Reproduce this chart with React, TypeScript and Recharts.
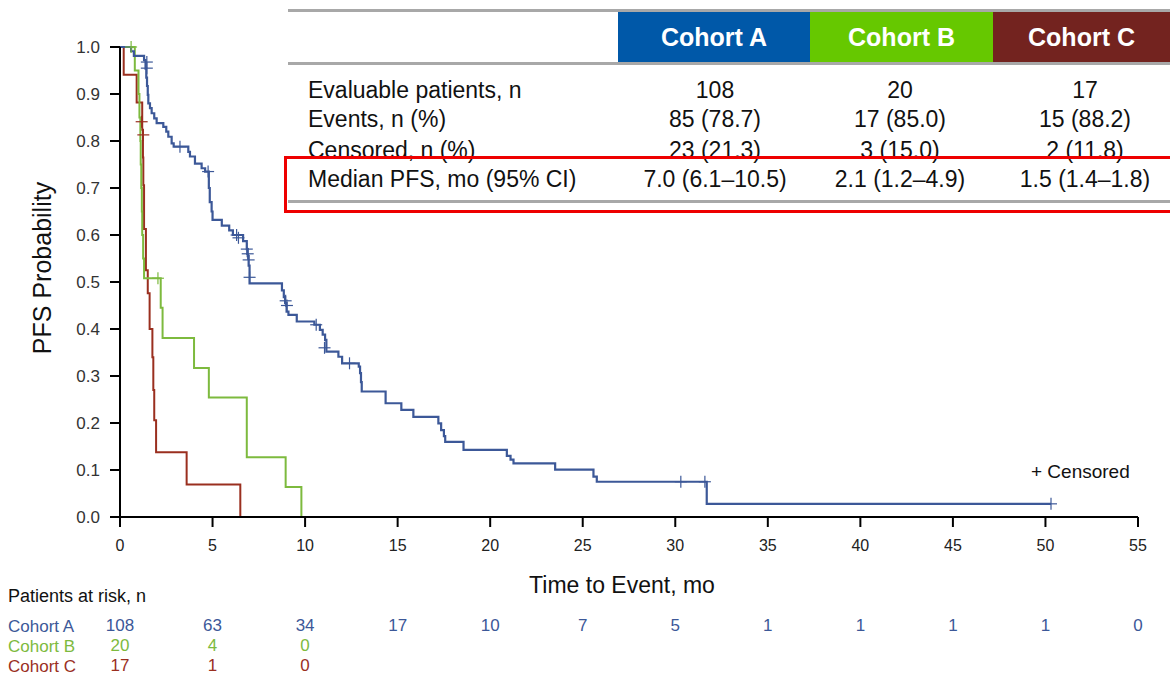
import React from "react";
import { ComposedChart, Line, Scatter, XAxis, YAxis } from "recharts";

// Kaplan-Meier steps: [months, probability]
const cohortA: [number, number][] = [
  [0, 1], [0.6, 0.991], [0.75, 0.981], [1.3, 0.972], [1.38, 0.954], [1.42, 0.935], [1.46, 0.917],
  [1.5, 0.898], [1.53, 0.88], [1.62, 0.87], [1.71, 0.859], [1.85, 0.848], [1.98, 0.838],
  [2.34, 0.83], [2.5, 0.82], [2.61, 0.809], [2.79, 0.795], [2.9, 0.788], [3.69, 0.777],
  [3.78, 0.767], [4.05, 0.752], [4.41, 0.742], [4.6, 0.735], [4.8, 0.7], [4.85, 0.67],
  [4.95, 0.65], [5.0, 0.632], [5.5, 0.62], [5.9, 0.61], [6.1, 0.6], [6.65, 0.587],
  [6.85, 0.57], [6.9, 0.555], [6.95, 0.535], [7.0, 0.497], [8.75, 0.482], [8.85, 0.468],
  [8.92, 0.455], [9.0, 0.437], [9.1, 0.43], [9.55, 0.416], [10.5, 0.409], [10.8, 0.398],
  [10.95, 0.388], [11.08, 0.377], [11.15, 0.352], [11.8, 0.341], [12.0, 0.327], [12.9, 0.32],
  [12.97, 0.306], [13.02, 0.287], [13.06, 0.267], [14.35, 0.242], [15.2, 0.228], [15.85, 0.213],
  [17.2, 0.199], [17.35, 0.185], [17.5, 0.172], [17.57, 0.16], [18.56, 0.143], [20.9, 0.13],
  [21.1, 0.122], [21.26, 0.114], [23.51, 0.101], [25.58, 0.086], [25.76, 0.075], [31.7, 0.028],
  [50.3, 0.028],
];
const cohortB: [number, number][] = [
  [0, 1], [0.8, 0.95], [1.0, 0.9], [1.05, 0.85], [1.1, 0.8], [1.12, 0.75], [1.15, 0.7],
  [1.18, 0.65], [1.2, 0.6], [1.25, 0.55], [1.3, 0.508], [2.2, 0.445], [2.3, 0.381],
  [4.0, 0.317], [4.8, 0.254], [6.85, 0.127], [8.95, 0.064], [9.8, 0],
];
const cohortC: [number, number][] = [
  [0, 1], [0.2, 0.941], [0.9, 0.882], [1.2, 0.824], [1.24, 0.765], [1.26, 0.706], [1.3, 0.613],
  [1.4, 0.525], [1.5, 0.476], [1.6, 0.4], [1.75, 0.34], [1.8, 0.27], [1.85, 0.206],
  [1.95, 0.138], [3.6, 0.069], [6.5, 0],
];

// censored observations
const censA: [number, number][] = [
  [1.45, 0.968], [1.45, 0.955], [3.24, 0.788], [4.76, 0.735], [6.3, 0.6], [6.4, 0.594],
  [6.85, 0.57], [6.9, 0.56], [6.95, 0.547], [7.0, 0.51], [8.95, 0.46], [9.02, 0.45],
  [10.6, 0.409], [11.05, 0.36], [12.4, 0.327], [30.3, 0.075], [31.6, 0.075], [50.3, 0.028],
];
const censB: [number, number][] = [[0.6, 1], [2.05, 0.508]];
const censC: [number, number][] = [[1.17, 0.841], [1.26, 0.813]];

const xTicks = [0, 5, 10, 15, 20, 25, 30, 35, 40, 45, 50, 55];
const yTicks = [0, 0.1, 0.2, 0.3, 0.4, 0.5, 0.6, 0.7, 0.8, 0.9, 1.0];

// patients at risk at each x tick
const riskA = [108, 63, 34, 17, 10, 7, 5, 1, 1, 1, 1, 0];
const riskB = [20, 4, 0];
const riskC = [17, 1, 0];

// summary table
const cohortNames = ["Cohort A", "Cohort B", "Cohort C"];
const rowLabels = ["Evaluable patients, n", "Events, n (%)", "Censored, n (%)", "Median PFS, mo (95% CI)"];
const colA = ["108", "85 (78.7)", "23 (21.3)", "7.0 (6.1–10.5)"];
const colB = ["20", "17 (85.0)", "3 (15.0)", "2.1 (1.2–4.9)"];
const colC = ["17", "15 (88.2)", "2 (11.8)", "1.5 (1.4–1.8)"];

const BLUE = "#3c5898";
const GREEN = "#7dba3e";
const RED = "#9a2f1f";
const HEAD = ["#0058a8", "#66c800", "#73231f"];
const FONT = "'Liberation Sans', Arial, sans-serif";

const pts = (arr: [number, number][]) => arr.map(([t, p]) => ({ t, p }));

const Plus = (props: any) => {
  const { cx, cy, fill } = props;
  if (cx == null || cy == null) return null;
  return (
    <g>
      <line x1={cx - 6} x2={cx + 6} y1={cy} y2={cy} stroke={fill} strokeWidth={1.2} />
      <line x1={cx} x2={cx} y1={cy - 6} y2={cy + 6} stroke={fill} strokeWidth={1.2} />
    </g>
  );
};

const riskAxis = (id: string, name: string, vals: number[], color: string) => (
  <XAxis
    xAxisId={id}
    type="number"
    dataKey="t"
    domain={[0, 55]}
    allowDataOverflow
    ticks={xTicks.slice(0, vals.length)}
    tickFormatter={(v: number) => String(vals[xTicks.indexOf(v)])}
    axisLine={false}
    tickLine={false}
    tickSize={0}
    tickMargin={0}
    height={20}
    tick={{ fontSize: 17, fill: color, fontFamily: FONT }}
    label={{
      content: (p: any) => (
        <text x={8} y={p.viewBox.y + 12.5} fontSize={17} fill={color} fontFamily={FONT}>
          {name}
        </text>
      ),
    }}
  />
);

function SummaryTable() {
  const cols = [colA, colB, colC];
  const centers = [427, 612, 797];
  const headLeft = [330, 522, 705];
  const headWidth = [192, 183, 177];
  const rowTop = [64, 93, 124, 153];
  return (
    <div style={{ position: "absolute", left: 288, top: 9, width: 882, height: 205, background: "#fff", fontFamily: FONT, color: "#111" }}>
      <div style={{ position: "absolute", left: 0, top: 0, width: 882, height: 3, background: "#a8a8a8" }} />
      {cohortNames.map((n, i) => (
        <div key={n} style={{ position: "absolute", left: headLeft[i], top: 3, width: headWidth[i], height: 50, background: HEAD[i], color: "#fff", fontWeight: "bold", fontSize: 25, lineHeight: "50px", textAlign: "center" }}>
          {n}
        </div>
      ))}
      <div style={{ position: "absolute", left: 0, top: 53, width: 882, height: 3, background: "#a8a8a8" }} />
      {rowLabels.map((r, i) => (
        <React.Fragment key={r}>
          <div style={{ position: "absolute", left: 20, top: rowTop[i], fontSize: 23, lineHeight: "34px", whiteSpace: "nowrap" }}>{r}</div>
          {cols.map((c, j) => (
            <div key={j} style={{ position: "absolute", left: centers[j] - 100, width: 200, top: rowTop[i], fontSize: 23, lineHeight: "34px", textAlign: "center", whiteSpace: "nowrap" }}>
              {c[i]}
            </div>
          ))}
        </React.Fragment>
      ))}
      <div style={{ position: "absolute", left: 0, top: 191, width: 882, height: 3, background: "#a8a8a8" }} />
      <div style={{ position: "absolute", left: -4, top: 147, width: 900, height: 51, border: "3px solid #ee0000" }} />
    </div>
  );
}

export default function App() {
  return (
    <div style={{ position: "absolute", left: 0, top: 0, width: 1170, height: 679, overflow: "hidden", background: "#fff" }}>
      <ComposedChart width={1170} height={679} margin={{ top: 47, right: 32, bottom: 0, left: 0 }} style={{ fontFamily: FONT }}>
        <XAxis
          xAxisId="main"
          type="number"
          dataKey="t"
          domain={[0, 55]}
          ticks={xTicks}
          allowDataOverflow
          height={102}
          tickSize={10}
          tickMargin={13}
          axisLine={{ stroke: "#000", strokeWidth: 2 }}
          tickLine={{ stroke: "#000", strokeWidth: 2 }}
          tick={{ fontSize: 16, fill: "#222", fontFamily: FONT }}
          label={{
            content: (p: any) => (
              <g fontFamily={FONT}>
                <text x={p.viewBox.x + p.viewBox.width / 2 - 7} y={p.viewBox.y + 76} fontSize={23} fill="#111" textAnchor="middle">
                  Time to Event, mo
                </text>
                <text x={8} y={p.viewBox.y + 85} fontSize={18} fill="#111">
                  Patients at risk, n
                </text>
              </g>
            ),
          }}
        />
        {riskAxis("riskA", "Cohort A", riskA, BLUE)}
        {riskAxis("riskB", "Cohort B", riskB, GREEN)}
        {riskAxis("riskC", "Cohort C", riskC, RED)}
        <YAxis
          type="number"
          dataKey="p"
          domain={[0, 1]}
          ticks={yTicks}
          width={120}
          tickSize={10}
          tickMargin={10}
          tickFormatter={(v: number) => v.toFixed(1)}
          axisLine={{ stroke: "#000", strokeWidth: 2 }}
          tickLine={{ stroke: "#000", strokeWidth: 2 }}
          tick={{ fontSize: 17, fill: "#333", fontFamily: FONT }}
          label={{
            content: (p: any) => {
              const x = p.viewBox.x + 42;
              const y = p.viewBox.y + p.viewBox.height / 2 - 14;
              return (
                <text x={x} y={y} transform={`rotate(-90 ${x} ${y})`} textAnchor="middle" dominantBaseline="central" fontSize={25} fill="#111" fontFamily={FONT}>
                  PFS Probability
                </text>
              );
            },
          }}
        />
        <Line xAxisId="main" data={pts(cohortC)} dataKey="p" type="stepAfter" stroke={RED} strokeWidth={2} dot={false} isAnimationActive={false} />
        <Line xAxisId="main" data={pts(cohortB)} dataKey="p" type="stepAfter" stroke={GREEN} strokeWidth={2} dot={false} isAnimationActive={false} />
        <Line xAxisId="main" data={pts(cohortA)} dataKey="p" type="stepAfter" stroke={BLUE} strokeWidth={2.2} dot={false} isAnimationActive={false} />
        <Scatter xAxisId="main" data={pts(censC)} fill={RED} shape={<Plus />} isAnimationActive={false} />
        <Scatter xAxisId="main" data={pts(censB)} fill={GREEN} shape={<Plus />} isAnimationActive={false} />
        <Scatter xAxisId="main" data={pts(censA)} fill={BLUE} shape={<Plus />} isAnimationActive={false} />
      </ComposedChart>
      <div style={{ position: "absolute", left: 1031, top: 461, fontFamily: FONT, fontSize: 19, color: "#111", whiteSpace: "nowrap" }}>+ Censored</div>
      <SummaryTable />
    </div>
  );
}
